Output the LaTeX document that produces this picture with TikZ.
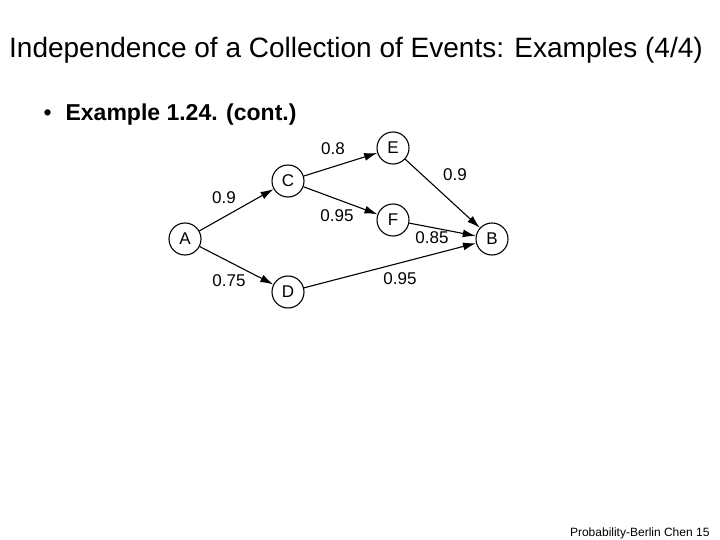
\documentclass[tikz,border=0pt]{standalone}
\usepackage{fontspec}
\setmainfont{Liberation Sans}
\usetikzlibrary{arrows.meta}
\begin{document}
\begin{tikzpicture}[x=1pt,y=-1pt,
  ev/.style={circle,draw,line width=1.1pt,minimum size=32pt,inner sep=0pt,font=\fontsize{17}{17}\selectfont},
  lbl/.style={font=\fontsize{17}{17}\selectfont},
  edge/.style={line width=1.1pt,-{Latex[length=13pt,width=8pt]}}]
\useasboundingbox (0,0) rectangle (720,540);
\node[font=\fontsize{28}{28}\selectfont] (title) at (356,50) {Independence of a Collection of Events: Examples (4/4)};
\node[anchor=west,font=\fontsize{23}{23}\selectfont] (bul) at (40,115) {•\hspace{14pt}\textbf{Example 1.24. (cont.)}};
\node[anchor=east,font=\fontsize{12}{12}\selectfont] (foot) at (713,533) {Probability-Berlin Chen 15};
\node[ev] (A) at (185,239) {A};
\node[ev] (C) at (288,181) {C};
\node[ev] (E) at (393,148) {E};
\node[ev] (F) at (393,220) {F};
\node[ev] (B) at (492,239) {B};
\node[ev] (D) at (288,292) {D};
\draw[edge] (A) -- (C);
\draw[edge] (A) -- (D);
\draw[edge] (C) -- (E);
\draw[edge] (C) -- (F);
\draw[edge] (E) -- (B);
\draw[edge] (F) -- (B);
\draw[edge] (D) -- (B);
\node[lbl] (l1) at (333,149) {0.8};
\node[lbl] (l2) at (224,198) {0.9};
\node[lbl] (l3) at (337,216) {0.95};
\node[lbl] (l4) at (455,175) {0.9};
\node[lbl] (l5) at (432,238) {0.85};
\node[lbl] (l6) at (229,281) {0.75};
\node[lbl] (l7) at (400,279) {0.95};
\end{tikzpicture}
\end{document}
